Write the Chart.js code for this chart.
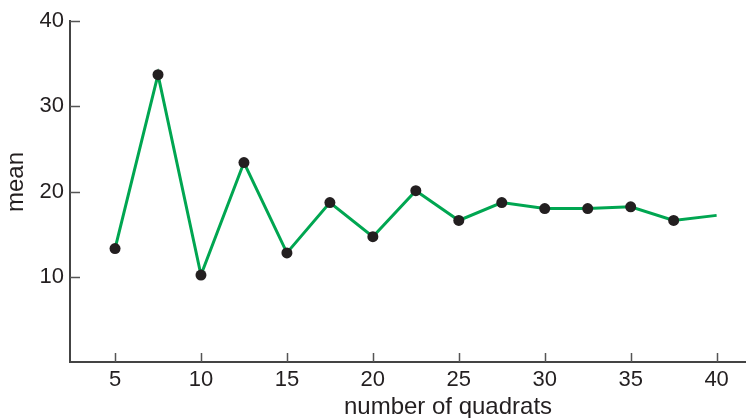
<!DOCTYPE html>
<html>
<head>
<meta charset="utf-8">
<script src="https://cdn.jsdelivr.net/npm/chart.js@4/dist/chart.umd.min.js"></script>
<style>
  html, body { margin: 0; padding: 0; background: #fff; }
  #wrap { width: 751px; height: 418px; }
</style>
</head>
<body>
<div id="wrap"><canvas id="meanChart"></canvas></div>
<script>
// number of quadrats sampled vs running mean
var quadrats = [5, 7.5, 10, 12.5, 15, 17.5, 20, 22.5, 25, 27.5, 30, 32.5, 35, 37.5, 40];
var means    = [13.3, 33.7, 10.2, 23.4, 12.8, 18.7, 14.7, 20.1, 16.6, 18.7, 18.0, 18.0, 18.2, 16.6, 17.2];
var xTicks = [5, 10, 15, 20, 25, 30, 35, 40];
var yTicks = [10, 20, 30, 40];
var xTitle = 'number of quadrats';
var yTitle = 'mean';

var ink = '#231f20';
var fontFamily = 'Liberation Sans, Arial, sans-serif';

// inward tick marks and the axis titles, placed like the printed figure
var figureBits = {
  id: 'figureBits',
  afterDraw: function(chart) {
    var ctx = chart.ctx;
    var x = chart.scales.x, y = chart.scales.y;
    ctx.save();
    ctx.strokeStyle = '#555';
    ctx.lineWidth = 1.5;
    ctx.beginPath();
    xTicks.forEach(function(v) {
      var px = Math.round(x.getPixelForValue(v)) + 0.5;
      ctx.moveTo(px, y.bottom);
      ctx.lineTo(px, y.bottom - 9);
    });
    yTicks.forEach(function(v) {
      var py = Math.round(y.getPixelForValue(v)) + 0.5;
      ctx.moveTo(x.left, py);
      ctx.lineTo(x.left + 10, py);
    });
    ctx.stroke();

    ctx.fillStyle = ink;
    ctx.font = '24px ' + fontFamily;
    ctx.textAlign = 'center';
    ctx.textBaseline = 'alphabetic';
    ctx.fillText(xTitle, 448, 414);

    ctx.translate(23, 182);
    ctx.rotate(-Math.PI / 2);
    ctx.fillText(yTitle, 0, 0);
    ctx.restore();
  }
};

var pointSizes = quadrats.map(function(q, i) { return i === quadrats.length - 1 ? 0 : 5.5; });

var ctx = document.getElementById('meanChart').getContext('2d');
var chart = new Chart(ctx, {
  type: 'line',
  data: {
    datasets: [{
      data: quadrats.map(function(q, i) { return { x: q, y: means[i] }; }),
      borderColor: '#00a651',
      borderWidth: 3,
      pointBackgroundColor: ink,
      pointBorderColor: ink,
      pointRadius: pointSizes,
      pointBorderWidth: 0,
      tension: 0,
      clip: false
    }]
  },
  options: {
    responsive: true,
    maintainAspectRatio: false,
    animation: false,
    layout: { padding: { left: 0, top: 21, right: 0, bottom: 0 } },
    plugins: { legend: { display: false }, tooltip: { enabled: false } },
    scales: {
      x: {
        type: 'linear',
        min: 2.38,
        max: 41.68,
        afterBuildTicks: function(s) { s.ticks = xTicks.map(function(v) { return { value: v }; }); },
        afterFit: function(s) { s.height = 56; },
        grid: { drawOnChartArea: false, drawTicks: false },
        border: { color: '#444', width: 2 },
        ticks: {
          color: ink,
          padding: 5,
          maxRotation: 0,
          font: { family: fontFamily, size: 22 }
        }
      },
      y: {
        min: 0,
        max: 40,
        afterBuildTicks: function(s) { s.ticks = yTicks.map(function(v) { return { value: v }; }); },
        afterFit: function(s) { s.width = 70; },
        grid: { drawOnChartArea: false, drawTicks: false },
        border: { color: '#444', width: 2 },
        ticks: {
          color: ink,
          padding: 6,
          font: { family: fontFamily, size: 22 }
        }
      }
    }
  },
  plugins: [figureBits]
});
</script>
</body>
</html>
